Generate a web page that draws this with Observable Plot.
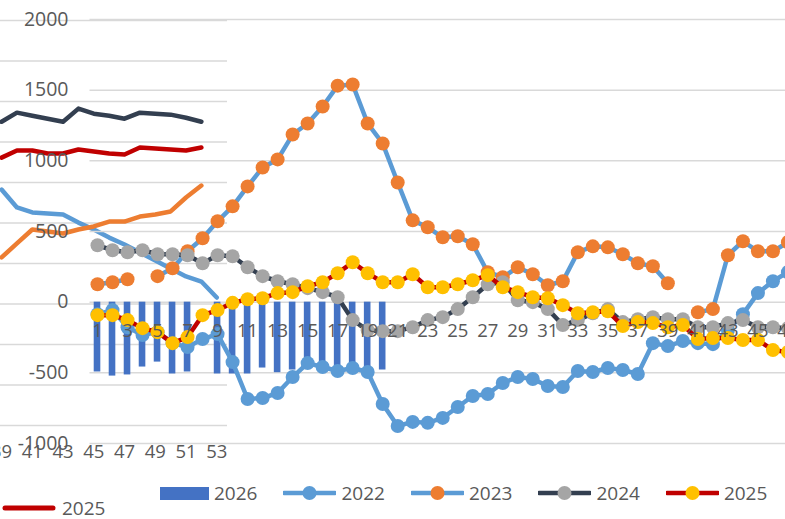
<!DOCTYPE html>
<html><head><meta charset="utf-8">
<script src="https://cdn.jsdelivr.net/npm/d3@7"></script>
<script src="https://cdn.jsdelivr.net/npm/@observablehq/plot@0.6"></script>
<style>
body{margin:0;background:#fff;}
#wrap{position:relative;width:785px;height:519px;overflow:hidden;background:#fff;font-family:"Open Sans",sans-serif;color:#595959;}
#back,#front{position:absolute;left:0;top:0;}
#wrap svg{max-width:none !important;}
#legend{position:absolute;left:160px;top:481px;display:flex;align-items:center;height:24px;font-size:19px;white-space:nowrap;}
#legend .item{display:flex;align-items:center;margin-right:26px;}
#legend .item span{margin-left:5px;}
#backlegend{position:absolute;left:0;top:496px;display:flex;align-items:center;height:24px;font-size:19px;}
#backlegend span{margin-left:4px;}
</style></head><body>
<div id="wrap"><div id="back"></div><div id="front"></div><div id="legend"></div><div id="backlegend"></div></div>
<script>
// ---- front chart data (weeks 1..53) ----
const weeks = [1,2,3,4,5,6,7,8,9,10,11,12,13,14,15,16,17,18,19,20,21,22,23,24,25,26,27,28,29,30,31,32,33,34,35,36,37,38,39,40,41,42,43,44,45,46,47,48,49,50,51,52,53];
const weekLabels = [1,3,5,7,9,11,13,15,17,19,21,23,25,27,29,31,33,35,37,39,41,43,45,47,49,51,53];
const yTicks = [-1000,-500,0,500,1000,1500,2000];
const s2026 = [-494,-523,-515,-459,-424,-508,-494,null,-508,-508,-508,-466,-499,-480,-459,-499,-499,-499,-466,-480];
const s2022 = [-85,-56,-177,-233,-212,-290,-318,-261,-226,-424,-685,-678,-643,-530,-431,-459,-487,-466,-494,-720,-876,-847,-854,-819,-742,-664,-650,-572,-530,-544,-593,-600,-487,-494,-466,-480,-508,-290,-311,-275,-290,-297,-198,-85,64,148,212];
const s2023 = [127,141,162,null,184,240,360,452,572,678,819,953,1010,1186,1264,1384,1532,1540,1264,1123,847,579,530,459,466,410,212,177,247,198,120,148,353,395,388,339,275,254,134,null,-71,-49,332,431,360,360,424];
const s2024 = [403,367,353,367,339,339,332,275,332,325,247,184,148,127,99,71,35,-127,-198,-205,-205,-177,-127,-106,-49,35,127,141,14,0,-49,-162,-127,-78,-49,-141,-120,-106,-120,-120,-177,-177,-148,-127,-177,-177,-184];
const s2025 = [-92,-92,-127,-184,-212,-290,-247,-92,-56,-5,21,28,64,71,113,141,205,282,205,141,141,198,106,106,127,155,191,106,71,35,28,-21,-78,-71,-64,-169,-141,-148,-177,-162,-261,-254,-254,-268,-268,-339,-353];

// ---- background chart data (weeks 39..53) ----
const backWeeks = [39,40,41,42,43,44,45,46,47,48,49,50,51,52,53];
const backLabels = [39,41,43,45,47,49,51,53];
const backTicks = [0,200,400,600,800,1000,1200,1400,1600,1800,2000];
const b2024 = [1500,1545,1530,1515,1500,1565,1540,1530,1515,1545,1540,1535,1520,1500,null];
const b2025 = [1323,1358,1358,1343,1343,1363,1353,1343,1338,1373,1368,1363,1358,1373,null];
const b2022 = [1165,1077,1052,1047,1042,1002,968,928,894,854,815,775,736,711,632];
const b2023 = [830,899,968,958,948,968,983,1007,1007,1032,1042,1057,1126,1185,null];

const C = {bar:"#4472C4", blue:"#5B9BD5", orange:"#ED7D31", gray:"#A5A5A5", navy:"#333F50", red:"#C00000", yellow:"#FFC000", grid:"#D9D9D9", text:"#595959"};

const rows = (ws, arr) => ws.map((w, i) => ({week: w, v: i < arr.length ? arr[i] : null}));

// ---- background chart ----
const backSeries = [[b2022, C.blue],[b2023, C.orange],[b2024, C.navy],[b2025, C.red]];
const back = Plot.plot({
  width: 240, height: 519, marginLeft: 0, marginRight: 13, marginTop: 20, marginBottom: 94,
  style: {background: "#fff", fontFamily: "Open Sans", overflow: "visible", maxWidth: "none"},
  x: {type: "linear", domain: [38.93, 53.7], axis: null},
  y: {domain: [0, 2000], axis: null},
  marks: [
    Plot.gridY(backTicks, {stroke: C.grid, strokeOpacity: 1, strokeWidth: 1.5}),
    ...backSeries.map(([arr, col]) => Plot.line(rows(backWeeks, arr), {x: "week", y: "v", stroke: col, strokeWidth: 4.5, strokeLinejoin: "round", strokeLinecap: "round"})),
    Plot.text(backLabels, {x: d => d, frameAnchor: "bottom", dy: 32, text: d => String(d), fontSize: 18.5, fill: C.text})
  ]
});
document.getElementById("back").appendChild(back);

// ---- front chart ----
const lineSeries = [[s2022, C.blue, C.blue],[s2023, C.blue, C.orange],[s2024, C.navy, C.gray],[s2025, C.red, C.yellow]];
const front = Plot.plot({
  width: 885, height: 519, marginLeft: 89.5, marginRight: 0, marginTop: 19, marginBottom: 76,
  style: {background: "transparent", fontFamily: "Open Sans", overflow: "visible", maxWidth: "none"},
  x: {type: "linear", domain: [0.5, 53.5], axis: null},
  y: {domain: [-1000, 2000], axis: null},
  marks: [
    Plot.gridY(yTicks, {stroke: C.grid, strokeOpacity: 1, strokeWidth: 1.5}),
    Plot.axisY(yTicks, {tickSize: 0, tickPadding: 21.5, fontSize: 19.5, color: C.text, label: null, tickFormat: d => String(d)}),
    Plot.rectY(rows(weeks, s2026).filter(d => d.v != null), {x1: d => d.week - 0.22, x2: d => d.week + 0.22, y: "v", fill: C.bar}),
    ...lineSeries.flatMap(([arr, lc, mc]) => [
      Plot.line(rows(weeks, arr), {x: "week", y: "v", stroke: lc, strokeWidth: 4.5, strokeLinejoin: "round"}),
      Plot.dot(rows(weeks, arr).filter(d => d.v != null), {x: "week", y: "v", r: 7, fill: mc, stroke: "none"})
    ]),
    Plot.text(weekLabels, {x: d => d, y: () => 0, dy: 29, text: d => String(d), fontSize: 18.5, fill: C.text})
  ]
});
document.getElementById("front").appendChild(front);

// ---- legends ----
function lineSwatch(lc, mc) {
  return `<svg width="53" height="16"><line x1="1" y1="8" x2="52" y2="8" stroke="${lc}" stroke-width="4.5" stroke-linecap="round"/>${mc ? `<circle cx="26.5" cy="8" r="7" fill="${mc}"/>` : ""}</svg>`;
}
const legendItems = [
  {name: "2026", sw: `<svg width="49" height="13"><rect x="0" y="0" width="49" height="13" fill="${C.bar}"/></svg>`},
  {name: "2022", sw: lineSwatch(C.blue, C.blue)},
  {name: "2023", sw: lineSwatch(C.blue, C.orange)},
  {name: "2024", sw: lineSwatch(C.navy, C.gray)},
  {name: "2025", sw: lineSwatch(C.red, C.yellow)}
];
document.getElementById("legend").innerHTML = legendItems.map(it => `<div class="item">${it.sw}<span>${it.name}</span></div>`).join("");
document.getElementById("backlegend").innerHTML = `<svg width="58" height="10"><line x1="5" y1="5" x2="53" y2="5" stroke="${C.red}" stroke-width="5" stroke-linecap="round"/></svg><span>2025</span>`;
</script>
</body></html>
